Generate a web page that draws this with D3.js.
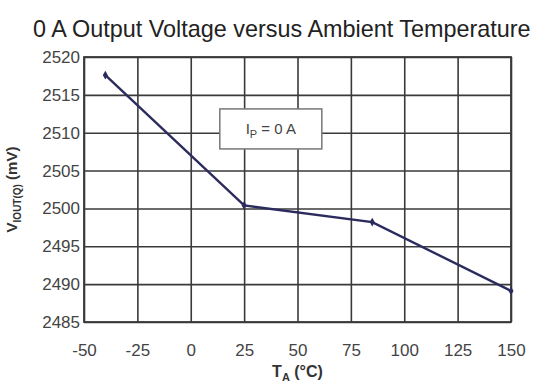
<!DOCTYPE html>
<html>
<head>
<meta charset="utf-8">
<script src="https://cdn.jsdelivr.net/npm/d3@7"></script>
<style>
  body { margin: 0; background: #fff; }
  svg { display: block; font-family: "Liberation Sans", Arial, sans-serif; }
</style>
</head>
<body>
<div id="chart"></div>
<script>
// data
const temps = [-40, 25, 85, 150];
const vout = [2517.6, 2500.4, 2498.2, 2489.1];
const xTicks = [-50, -25, 0, 25, 50, 75, 100, 125, 150];
const yTicks = [2485, 2490, 2495, 2500, 2505, 2510, 2515, 2520];

var width = 540;
var height = 382;
var margin = { top: 57, right: 29, bottom: 60, left: 84 };
var plotW = width - margin.left - margin.right;
var plotH = height - margin.top - margin.bottom;

var svg = d3.select("#chart")
    .append("svg")
    .attr("width", width)
    .attr("height", height);

// title
svg.append("text")
    .attr("x", 33)
    .attr("y", 37)
    .attr("fill", "#222")
    .style("font-size", "23.4px")
    .text("0 A Output Voltage versus Ambient Temperature");

var g = svg.append("g")
    .attr("transform", "translate(" + margin.left + "," + margin.top + ")");

var x = d3.scaleLinear().domain([-50, 150]).range([0, plotW]);
var y = d3.scaleLinear().domain([2485, 2520]).range([plotH, 0]);

// x axis with grid lines
var xAxis = g.append("g")
    .attr("transform", "translate(0," + plotH + ")")
    .call(d3.axisBottom(x).tickValues(xTicks).tickFormat(d => String(d))
        .tickSizeInner(-plotH).tickSizeOuter(0).tickPadding(22));
xAxis.select(".domain").remove();
xAxis.selectAll("line").attr("stroke", "#3a3a3a").attr("stroke-width", 1.6);
xAxis.selectAll("text")
    .attr("fill", "#444")
    .style("font-size", "17px")
    .style("font-family", "Liberation Sans, Arial, sans-serif");

// y axis with grid lines
var yAxis = g.append("g")
    .call(d3.axisLeft(y).tickValues(yTicks).tickFormat(d => String(d))
        .tickSizeInner(-plotW).tickSizeOuter(0).tickPadding(4));
yAxis.select(".domain").remove();
yAxis.selectAll("line").attr("stroke", "#3a3a3a").attr("stroke-width", 1.6);
yAxis.selectAll("text")
    .attr("fill", "#444")
    .style("font-size", "17px")
    .style("font-family", "Liberation Sans, Arial, sans-serif");

// frame
g.append("rect")
    .attr("width", plotW)
    .attr("height", plotH)
    .attr("fill", "none")
    .attr("stroke", "#3a3a3a")
    .attr("stroke-width", 1.8);

// legend box
var box = g.append("g").attr("transform", "translate(" + (x(37.5) - 51) + "," + (y(2510.5) - 20) + ")");
box.append("rect")
    .attr("width", 102)
    .attr("height", 40)
    .attr("fill", "#fff")
    .attr("stroke", "#777")
    .attr("stroke-width", 1.5);
var lt = box.append("text")
    .attr("x", 51)
    .attr("y", 25)
    .attr("text-anchor", "middle")
    .attr("fill", "#444")
    .style("font-size", "15px");
lt.append("tspan").text("I");
lt.append("tspan").attr("dy", 4).style("font-size", "11px").text("P");
lt.append("tspan").attr("dy", -4).text(" = 0 A");

// data line
var pts = temps.map((t, i) => [t, vout[i]]);
g.append("path")
    .datum(pts)
    .attr("fill", "none")
    .attr("stroke", "#2b2b5e")
    .attr("stroke-width", 2.4)
    .attr("d", d3.line().x(d => x(d[0])).y(d => y(d[1])));

g.selectAll(".pt")
    .data(pts)
    .enter()
    .append("path")
    .attr("class", "pt")
    .attr("transform", d => "translate(" + x(d[0]) + "," + y(d[1]) + ")")
    .attr("d", d3.symbol(d3.symbolDiamond, 22))
    .attr("fill", "#2b2b5e");

// axis titles
var xl = svg.append("text")
    .attr("x", margin.left + plotW / 2)
    .attr("y", 377)
    .attr("text-anchor", "middle")
    .attr("fill", "#333")
    .style("font-size", "16px")
    .style("font-weight", "bold");
xl.append("tspan").text("T");
xl.append("tspan").attr("dy", 4).style("font-size", "11px").text("A");
xl.append("tspan").attr("dy", -4).text(" (°C)");

var yl = svg.append("text")
    .attr("transform", "translate(17," + (margin.top + plotH / 2) + ") rotate(-90)")
    .attr("text-anchor", "middle")
    .attr("fill", "#333")
    .style("font-size", "15px")
    .style("font-weight", "bold");
yl.append("tspan").text("V");
yl.append("tspan").attr("dy", 4).style("font-size", "10px").text("IOUT(Q)");
yl.append("tspan").attr("dy", -4).text(" (mV)");
</script>
</body>
</html>
